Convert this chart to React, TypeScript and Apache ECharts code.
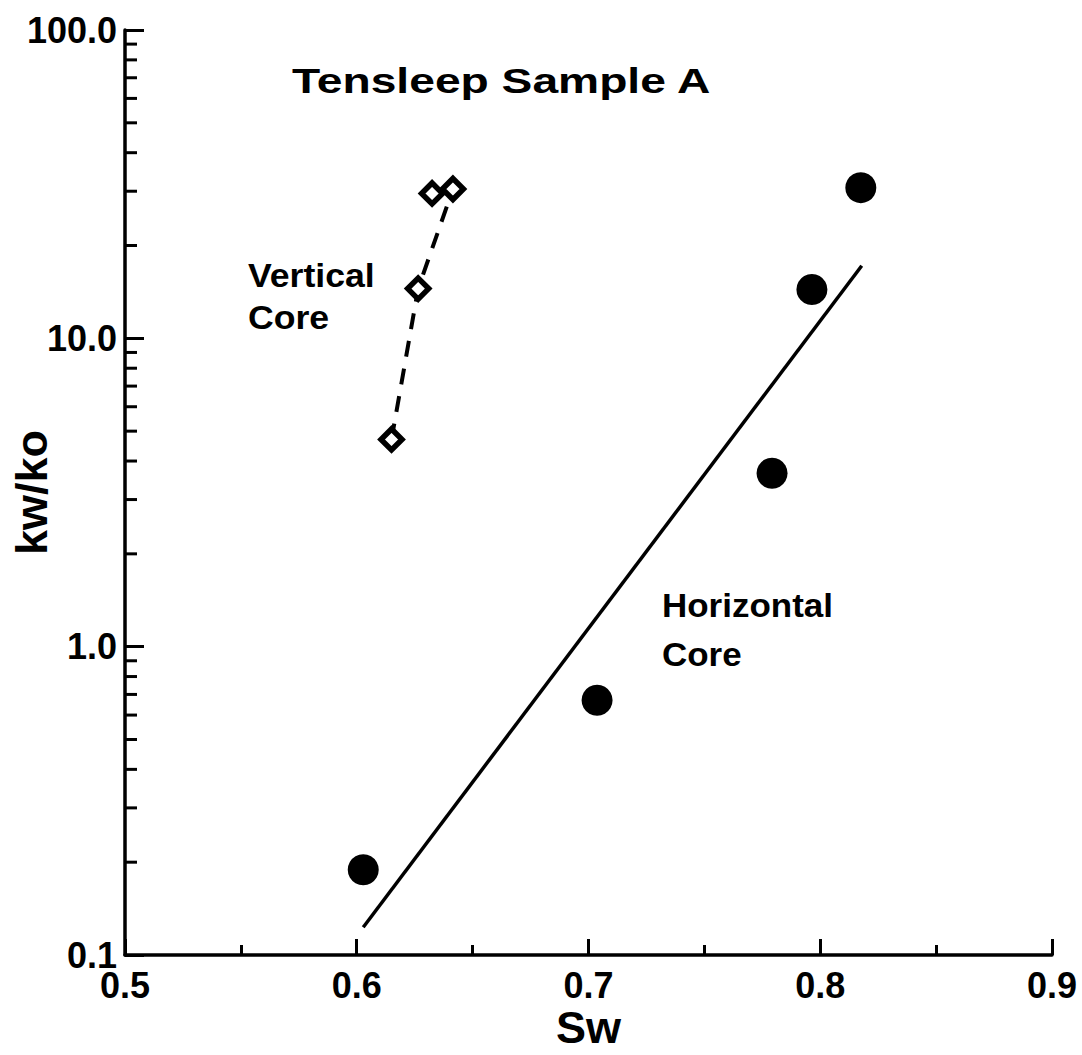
import React, { useEffect, useRef } from "react";
import * as echarts from "echarts";

// Horizontal core measurements (filled circles)
const swHorizontal = [0.6028, 0.7037, 0.7792, 0.7964, 0.8175];
const krHorizontal = [0.189, 0.67, 3.65, 14.4, 30.8];

// Vertical core measurements (open diamonds)
const swVertical = [0.615, 0.6265, 0.6325, 0.6415];
const krVertical = [4.7, 14.5, 29.5, 30.5];
// points joined by the dashed trend line
const verticalTrendIdx = [0, 1, 3];

// Fitted straight line through the horizontal core data
const fitSw = [0.6028, 0.8179];
const fitKr = [0.123, 17.2];

// Log-decade minor tick values on the ratio axis
const minorTickValues = [
  0.2, 0.3, 0.4, 0.5, 0.6, 0.7, 0.8, 0.9,
  2, 3, 4, 5, 6, 7, 8, 9,
  20, 30, 40, 50, 60, 70, 80, 90,
];

const FONT = "'Liberation Sans', Arial, Helvetica, sans-serif";

function label(text: string, x: number, y: number, size: number, scaleX: number) {
  return {
    type: "text",
    x,
    y,
    scaleX,
    style: {
      text,
      fontFamily: FONT,
      fontWeight: "bold",
      fontSize: size,
      fill: "#000",
      textAlign: "left",
      textVerticalAlign: "middle",
    },
  };
}

export default function App() {
  const ref = useRef<HTMLDivElement>(null);

  useEffect(() => {
    if (!ref.current) return;
    const chart = echarts.init(ref.current, null, { renderer: "svg" });

    const labelStyle = {
      fontFamily: FONT,
      fontWeight: "bold" as const,
      fontSize: 36,
      color: "#000",
    };

    chart.setOption({
      animation: false,
      backgroundColor: "#fff",
      grid: {
        left: 125,
        right: 30,
        top: 30,
        bottom: 100,
        containLabel: false,
        outerBoundsMode: "none",
      },
      xAxis: {
        type: "value",
        min: 0.5,
        max: 0.9,
        interval: 0.1,
        name: "Sw",
        nameLocation: "middle",
        nameGap: 52,
        nameMoveOverlap: false,
        nameTextStyle: { ...labelStyle, fontSize: 45, lineHeight: 40 },
        axisLine: { show: true, lineStyle: { color: "#000", width: 3.5 } },
        axisTick: { show: true, inside: true, length: 16, lineStyle: { color: "#000", width: 3 } },
        minorTick: { show: true, splitNumber: 2, length: 10, lineStyle: { color: "#000", width: 3 } },
        splitLine: { show: false },
        axisLabel: {
          ...labelStyle,
          margin: 12,
          formatter: (v: number) => v.toFixed(1),
        },
      },
      yAxis: {
        type: "log",
        logBase: 10,
        min: 0.1,
        max: 100,
        name: "kw/ko",
        nameLocation: "middle",
        nameRotate: 90,
        nameGap: 71,
        nameMoveOverlap: false,
        nameTextStyle: { ...labelStyle, fontSize: 45, lineHeight: 45 },
        axisLine: { show: true, lineStyle: { color: "#000", width: 3.5 } },
        axisTick: { show: true, inside: true, length: 19, lineStyle: { color: "#000", width: 3 } },
        splitLine: { show: false },
        axisLabel: {
          ...labelStyle,
          margin: 8,
          formatter: (v: number) => v.toFixed(1),
        },
      },
      graphic: [
        label("Tensleep Sample A", 292, 81, 35, 1.32),
        label("Vertical", 248, 275, 33, 1.08),
        label("Core", 248, 317, 33, 1.08),
        label("Horizontal", 662, 605, 33, 1.06),
        label("Core", 662, 654, 33, 1.06),
      ],
      series: [
        {
          name: "minor ticks",
          type: "custom",
          clip: false,
          silent: true,
          data: minorTickValues.map((v) => [0.5, v]),
          renderItem: (_params: any, api: any) => {
            const p = api.coord([api.value(0), api.value(1)]);
            return {
              type: "line",
              shape: { x1: p[0], y1: p[1], x2: p[0] + 12, y2: p[1] },
              style: { stroke: "#000", lineWidth: 3 },
            };
          },
          z: 5,
        },
        {
          name: "fit",
          type: "line",
          data: fitSw.map((x, i) => [x, fitKr[i]]),
          showSymbol: false,
          lineStyle: { color: "#000", width: 3.5 },
          z: 2,
        },
        {
          name: "vertical trend",
          type: "line",
          data: verticalTrendIdx.map((i) => [swVertical[i], krVertical[i]]),
          showSymbol: false,
          lineStyle: { color: "#000", width: 4, type: [16, 12] },
          z: 2,
        },
        {
          name: "Horizontal Core",
          type: "scatter",
          data: swHorizontal.map((x, i) => [x, krHorizontal[i]]),
          symbol: "circle",
          symbolSize: 31,
          itemStyle: { color: "#000", opacity: 1 },
          z: 3,
        },
        {
          name: "Vertical Core",
          type: "scatter",
          data: swVertical.map((x, i) => [x, krVertical[i]]),
          symbol: "diamond",
          symbolSize: 21,
          itemStyle: { color: "#fff", borderColor: "#000", borderWidth: 5.5, opacity: 1 },
          z: 4,
        },
      ],
    });

    return () => chart.dispose();
  }, []);

  return (
    <div
      ref={ref}
      style={{ width: 1082, height: 1055, position: "absolute", left: 0, top: 0, background: "#fff" }}
    />
  );
}
